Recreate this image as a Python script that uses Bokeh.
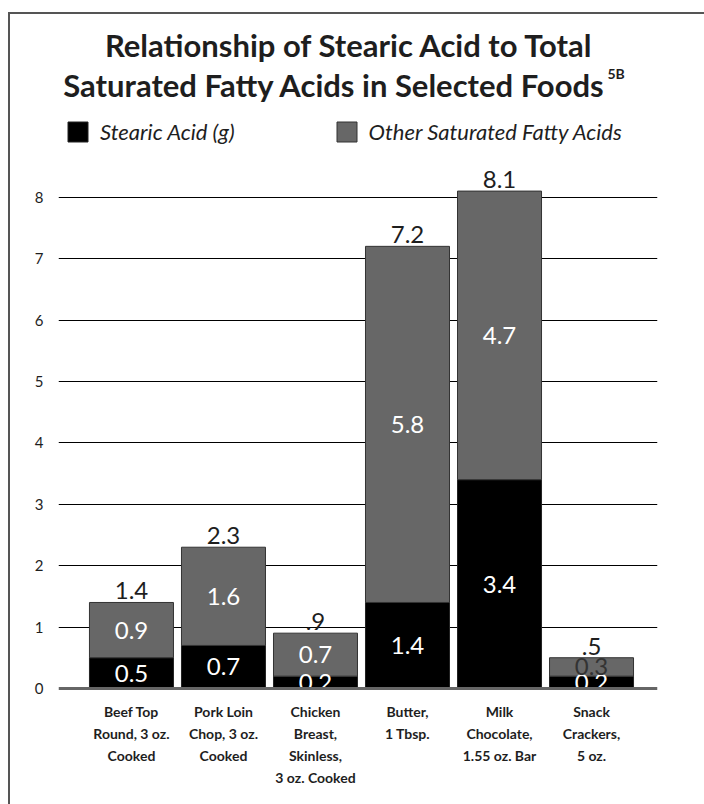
from bokeh.plotting import figure
from bokeh.models import (ColumnDataSource, FixedTicker, Label, Legend, LegendItem, Span)
from bokeh.core.properties import value
from bokeh.embed import file_html
from bokeh.resources import INLINE

# ---- data ----
foods = ["Beef Top\nRound, 3 oz.\nCooked", "Pork Loin\nChop, 3 oz.\nCooked",
         "Chicken\nBreast,\nSkinless,\n3 oz. Cooked", "Butter,\n1 Tbsp.",
         "Milk\nChocolate,\n1.55 oz. Bar", "Snack\nCrackers,\n5 oz."]
stearic = [0.5, 0.7, 0.2, 1.4, 3.4, 0.2]
other = [0.9, 1.6, 0.7, 5.8, 4.7, 0.3]
total_labels = ["1.4", "2.3", ".9", "7.2", "8.1", ".5"]
stearic_labels = ["0.5", "0.7", "0.2", "1.4", "3.4", "0.2"]
other_labels = ["0.9", "1.6", "0.7", "5.8", "4.7", "0.3"]
y_ticks = [0, 1, 2, 3, 4, 5, 6, 7, 8]
series_names = ["Stearic Acid (g)", "Other Saturated Fatty Acids"]
title_lines = ["Relationship of Stearic Acid to Total",
               "Saturated Fatty Acids in Selected Foods"]
title_sup = "5B"

BLACK = "#000000"
GRAY = "#676767"
TEXT = "#1e1e1e"

idx = list(range(len(foods)))
totals = [s + o for s, o in zip(stearic, other)]
src = ColumnDataSource(dict(
    x=idx, stearic=stearic, other=other, total=totals,
    s_mid=[s / 2 for s in stearic],
    o_mid=[s + o / 2 for s, o in zip(stearic, other)],
    t_lab=total_labels, s_lab=stearic_labels, o_lab=other_labels,
    o_col=["white" if o > 0.4 else "#333333" for o in other],
))

W, H = 696, 792
FRAME_H = 675
Y0 = -0.05
Y1 = Y0 + FRAME_H / 61.4
p = figure(width=W, height=H, output_backend="svg", toolbar_location=None,
           x_range=(-0.793, 5.717), y_range=(Y0, Y1),
           min_border_left=48, min_border_right=49, min_border_top=2,
           min_border_bottom=115, margin=(12, 0, 0, 8))
p.styles = {"border-left": "2px solid #555555", "border-top": "2px solid #555555"}
p.outline_line_color = None
p.background_fill_color = "white"
p.border_fill_color = "white"

r1 = p.vbar(x="x", bottom=0, top="stearic", width=0.913, source=src,
            fill_color=BLACK, line_color="#222222", line_width=1)
r2 = p.vbar(x="x", bottom="stearic", top="total", width=0.913, source=src,
            fill_color=GRAY, line_color="#333333", line_width=1)

zero = Span(location=0, dimension="width", line_color="#666666", line_width=3)
p.add_layout(zero)

lab_font = value("Lato")
p.text(x="x", y="total", text="t_lab", source=src, text_align="center",
       text_baseline="bottom", y_offset=-3, text_font=lab_font,
       text_font_size="24px", text_color=TEXT)
p.text(x="x", y="s_mid", text="s_lab", source=src, text_align="center",
       text_baseline="middle", text_font=lab_font, text_font_size="24px",
       text_color="white")
p.text(x="x", y="o_mid", text="o_lab", source=src, text_align="center",
       text_baseline="middle", text_font=lab_font, text_font_size="24px",
       text_color="o_col")

# axes
p.xaxis.ticker = FixedTicker(ticks=idx)
p.xaxis.major_label_overrides = {i: f for i, f in zip(idx, foods)}
p.xaxis.major_label_text_font = "Lato"
p.xaxis.major_label_text_font_style = "bold"
p.xaxis.major_label_text_font_size = "14px"
p.xaxis.major_label_text_line_height = 1.3
p.xaxis.major_label_text_color = TEXT
p.xaxis.major_label_standoff = 5
p.yaxis.ticker = FixedTicker(ticks=y_ticks)
p.yaxis.major_label_text_font = "Lato"
p.yaxis.major_label_text_font_size = "15px"
p.yaxis.major_label_text_color = TEXT
p.yaxis.major_label_standoff = 9
for ax in (p.xaxis, p.yaxis):
    ax.axis_line_color = None
    ax.major_tick_line_color = None
    ax.minor_tick_line_color = None
p.xgrid.grid_line_color = None
p.ygrid.ticker = FixedTicker(ticks=y_ticks[1:])
p.ygrid.grid_line_color = "black"
p.ygrid.grid_line_width = 1

# page -> frame screen coordinates (origin bottom-left of frame)
FX0, FY0 = 58, 691
def sx(px):
    return px - FX0
def sy(py):
    return FY0 - py

# legend
legend = Legend(items=[LegendItem(label=series_names[0], renderers=[r1]),
                       LegendItem(label=series_names[1], renderers=[r2])],
                orientation="horizontal", location=(sx(65), sy(145)),
                label_text_font="Lato", label_text_font_style="italic",
                label_text_font_size="22px", label_text_color=TEXT,
                glyph_width=25, glyph_height=25, label_standoff=10,
                spacing=99, padding=0, margin=0,
                border_line_color=None, background_fill_alpha=0)
p.add_layout(legend)

# title
title_style = dict(x_units="screen", y_units="screen", text_baseline="alphabetic",
                   text_font="Lato", text_font_style="bold", text_color=TEXT)
p.add_layout(Label(x=sx(349), y=sy(44), text=title_lines[0], text_align="center",
                   text_font_size="31px", **title_style))
p.add_layout(Label(x=sx(605), y=sy(84), text=title_lines[1], text_align="right",
                   text_font_size="31px", **title_style))
p.add_layout(Label(x=sx(607), y=sy(73), text=title_sup, text_align="left",
                   text_font_size="14px", **title_style))

open("out.html", "w").write(file_html(p, INLINE))
